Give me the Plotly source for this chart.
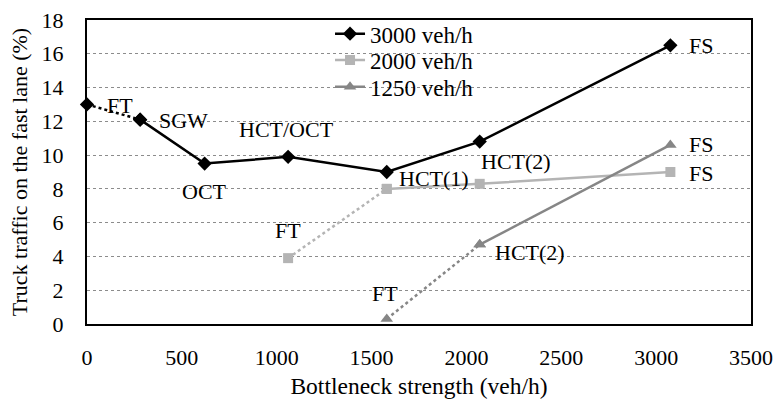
import plotly.graph_objects as go

# Bottleneck strength (veh/h) and truck share on the fast lane (%) per demand level
x_3000 = [0, 280, 620, 1060, 1580, 2070, 3075]
y_3000 = [13.0, 12.1, 9.5, 9.9, 9.0, 10.8, 16.5]

x_2000 = [1060, 1580, 2070, 3075]
y_2000 = [3.9, 8.0, 8.3, 9.0]

x_1250 = [1580, 2070, 3075]
y_1250 = [0.3, 4.7, 10.6]

series_names = ["3000 veh/h", "2000 veh/h", "1250 veh/h"]

# Point labels: (text, x, y, xanchor)
labels_3000 = [("FT", 95, 12.95, "left"), ("SGW", 369, 12.07, "left"),
               ("OCT", 619, 7.85, "center"), ("HCT/OCT", 1052, 11.49, "center"),
               ("HCT(1)", 1634, 8.62, "left"), ("HCT(2)", 2066, 9.61, "left"),
               ("FS", 3163, 16.47, "left")]
labels_2000 = [("FT", 1057, 5.51, "center"), ("FS", 3163, 8.91, "left")]
labels_1250 = [("FT", 1571, 1.82, "center"), ("HCT(2)", 2140, 4.22, "left"),
               ("FS", 3163, 10.61, "left")]

x_ticks = [0, 500, 1000, 1500, 2000, 2500, 3000, 3500]
y_ticks = [0, 2, 4, 6, 8, 10, 12, 14, 16, 18]

FONT = "'Times New Roman', 'Liberation Serif', 'DejaVu Serif', serif"
styles = [
    dict(color="#000000", symbol="diamond", size=11),
    dict(color="#b4b4b4", symbol="square", size=10),
    dict(color="#868686", symbol="triangle-up", size=11),
]
# one legend per series so the rows sit close together
legend_ids = ["legend", "legend2", "legend3"]
legend_rows = [0.955, 0.868, 0.780]

fig = go.Figure()
for name, xs, ys, st, lg in zip(series_names, [x_3000, x_2000, x_1250],
                                [y_3000, y_2000, y_1250], styles, legend_ids):
    # first transition drawn dotted
    fig.add_trace(go.Scatter(
        x=xs[:2], y=ys[:2], mode="lines+markers", showlegend=False,
        line=dict(color=st["color"], width=2.5, dash="dot"),
        marker=dict(color=st["color"], symbol=st["symbol"], size=st["size"]),
        cliponaxis=False, hoverinfo="skip"))
    fig.add_trace(go.Scatter(
        x=xs[1:], y=ys[1:], mode="lines+markers", name=name, legend=lg,
        line=dict(color=st["color"], width=2.5),
        marker=dict(color=st["color"], symbol=st["symbol"], size=st["size"]),
        cliponaxis=False))

for text, lx, ly, anchor in labels_3000 + labels_2000 + labels_1250:
    fig.add_annotation(x=lx, y=ly, text=text, showarrow=False,
                       xanchor=anchor, yanchor="middle",
                       font=dict(family=FONT, size=22, color="#000000"))

# white panel behind the legend rows, above the gridlines
fig.add_shape(type="rect", xref="paper", yref="paper",
              x0=0.336, x1=0.604, y0=0.735, y1=0.99,
              fillcolor="white", line=dict(width=0), layer="between")

legend_style = dict(x=0.366, xanchor="left", yanchor="middle",
                    bgcolor="rgba(0,0,0,0)", borderwidth=0,
                    font=dict(family=FONT, size=23, color="#000000"))

fig.update_layout(
    width=775, height=401,
    margin=dict(l=87, r=24, t=17, b=77),
    paper_bgcolor="white", plot_bgcolor="white",
    font=dict(family=FONT, size=22, color="#000000"),
    showlegend=True,
    legend=dict(y=legend_rows[0], **legend_style),
    legend2=dict(y=legend_rows[1], **legend_style),
    legend3=dict(y=legend_rows[2], **legend_style),
)
fig.update_xaxes(
    range=[0, 3500], tickvals=x_ticks, ticktext=[str(v) for v in x_ticks],
    showgrid=False, zeroline=False, automargin=False,
    showline=True, linecolor="#000000", linewidth=2, mirror=True,
    ticks="", ticklabelstandoff=13,
    tickfont=dict(family=FONT, size=22),
    title=dict(text="Bottleneck strength (veh/h)", standoff=8,
               font=dict(family=FONT, size=23.5)),
)
fig.update_yaxes(
    range=[0, 18], tickvals=y_ticks, ticktext=[str(v) for v in y_ticks],
    showgrid=True, gridcolor="#8c8c8c", gridwidth=1, griddash="dot",
    zeroline=False, automargin=False,
    showline=True, linecolor="#000000", linewidth=2, mirror=True,
    ticks="", ticklabelstandoff=17,
    tickfont=dict(family=FONT, size=22),
    title=dict(text="Truck traffic on the fast lane (%)", standoff=8,
               font=dict(family=FONT, size=22)),
)

fig.write_html("out.html")
